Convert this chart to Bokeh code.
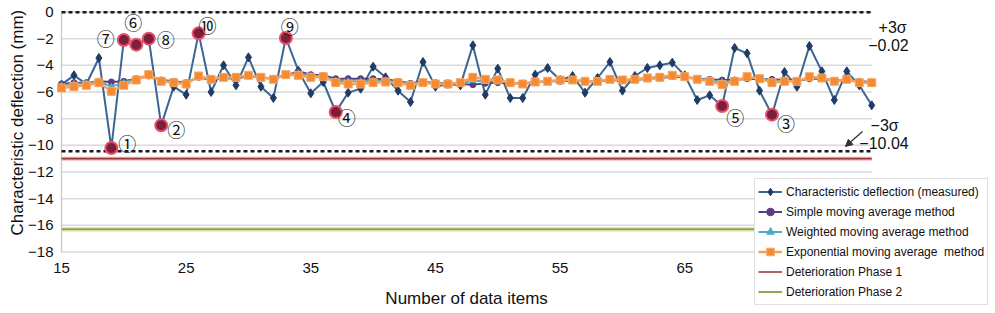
import math
from bokeh.plotting import figure
from bokeh.models import (ColumnDataSource, Legend, LegendItem, Label, Arrow,
                          NormalHead, FixedTicker, Range1d)
from bokeh.core.properties import value
from bokeh.embed import file_html
from bokeh.resources import INLINE

# ---------------- data ----------------
x_items = list(range(15, 81))
measured = [-5.45, -4.75, -5.4, -3.45, -10.2, -2.1, -2.45, -2.0, -8.5, -5.6,
            -6.2, -1.6, -6.0, -4.0, -5.5, -3.4, -5.6, -6.45, -1.95, -4.4,
            -6.1, -5.25, -7.5, -6.05, -5.75, -4.1, -4.9, -5.9, -6.75, -3.75,
            -5.6, -5.4, -5.5, -2.5, -6.2, -4.25, -6.45, -6.45, -4.7, -4.2,
            -5.1, -4.8, -6.05, -4.95, -3.75, -5.9, -4.8, -4.2, -4.0, -3.8,
            -4.75, -6.6, -6.25, -7.05, -2.7, -3.1, -5.9, -7.7, -4.5, -5.6,
            -2.55, -4.45, -6.6, -4.45, -5.5, -7.0]
sma = [-5.4, -5.3, -5.3, -5.2, -5.25, -5.2, -5.0, -4.8, -5.1, -5.2,
       -5.3, -4.9, -5.1, -4.95, -5.0, -4.8, -4.9, -5.0, -4.75, -4.45,
       -4.7, -4.75, -5.0, -5.0, -5.0, -5.0, -5.05, -5.2, -5.35, -5.25,
       -5.3, -5.35, -5.4, -5.45, -5.35, -5.3, -5.35, -5.35, -5.3, -5.2,
       -5.2, -5.15, -5.2, -5.2, -5.1, -5.15, -5.1, -5.0, -4.95, -4.85,
       -4.9, -5.0, -5.05, -5.1, -5.1, -5.0, -5.05, -5.05, -5.1, -5.15,
       -5.0, -5.0, -5.15, -5.1, -5.2, -5.25]
wma = [-5.5, -5.4, -5.35, -5.2, -5.6, -5.3, -5.0, -4.75, -5.15, -5.25,
       -5.35, -4.85, -5.05, -4.9, -4.95, -4.75, -4.9, -5.0, -4.7, -4.6,
       -4.8, -4.8, -5.15, -5.2, -5.2, -5.15, -5.15, -5.25, -5.4, -5.25,
       -5.35, -5.35, -5.35, -5.15, -5.2, -5.2, -5.3, -5.35, -5.25, -5.2,
       -5.15, -5.1, -5.2, -5.2, -5.05, -5.1, -5.05, -4.95, -4.9, -4.8,
       -4.85, -5.0, -5.1, -5.25, -5.15, -4.9, -5.0, -5.15, -5.15, -5.2,
       -4.9, -4.95, -5.15, -5.05, -5.25, -5.3]
ema = [-5.7, -5.6, -5.5, -5.3, -5.95, -5.5, -5.1, -4.7, -5.2, -5.3,
       -5.4, -4.8, -5.05, -4.9, -4.9, -4.75, -4.9, -5.05, -4.7, -4.75,
       -4.9, -4.85, -5.3, -5.4, -5.4, -5.3, -5.25, -5.3, -5.5, -5.3,
       -5.4, -5.4, -5.3, -4.9, -5.05, -5.1, -5.3, -5.4, -5.25, -5.2,
       -5.1, -5.1, -5.2, -5.2, -5.05, -5.1, -5.05, -4.95, -4.9, -4.75,
       -4.85, -5.05, -5.2, -5.45, -5.2, -4.85, -5.0, -5.3, -5.2, -5.2,
       -4.85, -4.95, -5.2, -5.05, -5.3, -5.3]

sigma_upper = -0.02
sigma_lower = -10.45
sigma_upper_text = ["+3σ", "−0.02"]
sigma_lower_text = ["−3σ", "−10.04"]
phase1 = -11.0
phase2 = -16.3

flag_items = [19, 23, 72, 37, 68, 21, 20, 22, 33, 26]
flag_labels = ["①", "②", "③", "④", "⑤", "⑥", "⑦", "⑧", "⑨", "⑩"]

x_ticks = [15, 25, 35, 45, 55, 65, 75]
y_ticks = list(range(-18, 1, 2))

x_title = "Number of data items"
y_title = "Characteristic deflection (mm)"
series_names = ["Characteristic deflection (measured)",
                "Simple moving average method",
                "Weighted moving average method",
                "Exponential moving average  method",
                "Deterioration Phase 1",
                "Deterioration Phase 2"]

# ---------------- layout / styling ----------------
FONT = "Liberation Sans"
W, H = 995, 313
X0_PX, PX_PER_X = 61.0, 12.465     # pixel of first x item, px per item
Y0_PX, PX_PER_Y = 11.5, 13.333     # pixel of y = 0, px per mm
x_lo, x_hi = x_items[0], x_items[-1]
y_lo, y_hi = y_ticks[0], y_ticks[-1]

flag_dx = [16, 15, 14, 11, 13, -3, -18, 17, 4, 9]
flag_dy = [-5, 4, 8, 5, 11, -23, -2, 0, -12, -8]

p = figure(frame_width=W, frame_height=H,
           x_range=Range1d(x_lo - X0_PX / PX_PER_X, x_lo + (W - X0_PX) / PX_PER_X),
           y_range=Range1d(-(H - Y0_PX) / PX_PER_Y, Y0_PX / PX_PER_Y),
           output_backend="svg", toolbar_location=None,
           min_border=0, min_border_left=0, min_border_right=0,
           min_border_top=0, min_border_bottom=0,
           background_fill_color="white", border_fill_color="white")
p.outline_line_color = None
p.grid.visible = False

p.xaxis.fixed_location = y_lo
p.yaxis.fixed_location = x_lo
p.xaxis.ticker = FixedTicker(ticks=x_ticks)
p.yaxis.ticker = FixedTicker(ticks=y_ticks)
p.yaxis.major_label_overrides = {t: ("−%d" % abs(t) if t < 0 else str(t)) for t in y_ticks}
for ax in (p.xaxis, p.yaxis):
    ax.axis_line_color = None
    ax.major_tick_line_color = None
    ax.minor_tick_line_color = None
    ax.major_tick_out = 0
    ax.major_tick_in = 0
    ax.minor_tick_out = 0
    ax.major_label_text_font = FONT
    ax.major_label_text_font_size = "15px"
    ax.major_label_text_color = "#111111"
p.xaxis.major_label_standoff = 11
p.yaxis.major_label_standoff = 8

# grid lines (only across the data span) and y axis line
p.segment(x0=[x_lo] * len(y_ticks), x1=[x_hi] * len(y_ticks), y0=y_ticks, y1=y_ticks,
          line_color="#d9d9d9", line_width=1.5)
p.segment(x0=[x_lo], x1=[x_lo], y0=[y_lo], y1=[y_hi], line_color="#c8c8c8", line_width=1.3)

# axis titles
p.add_layout(Label(x=x_lo, y=(y_lo + y_hi) / 2 + 0.7, x_offset=-44, text=y_title,
                   angle=math.pi / 2, text_align="center", text_baseline="middle",
                   text_font=FONT, text_font_size="17px", text_color="#111111"))
p.add_layout(Label(x=(x_lo + x_hi) / 2, y=y_lo - 3.5, text=x_title,
                   text_align="center", text_baseline="middle",
                   text_font=FONT, text_font_size="17px", text_color="#111111"))

src = ColumnDataSource(dict(x=x_items, m=measured, s=sma, w=wma, e=ema))
x_ends = [x_lo, x_hi]

# control limits (dashed)
p.line(x_ends, [sigma_upper] * 2, line_color="#1a1a1a", line_width=2.5, line_dash="4 3")
p.line(x_ends, [sigma_lower] * 2, line_color="#1a1a1a", line_width=2.5, line_dash="4 3")

# deterioration lines
p.line(x_ends, [phase1] * 2, line_color="#f2b8b8", line_width=4)
r_p1 = p.line(x_ends, [phase1] * 2, line_color="#9c3a3a", line_width=1.6)
p.line(x_ends, [phase2] * 2, line_color="#dfe8b8", line_width=4.5)
r_p2 = p.line(x_ends, [phase2] * 2, line_color="#8fa64a", line_width=2)

# series
r_ml = p.line("x", "m", source=src, line_color="#3b6593", line_width=2)
r_mm = p.scatter("x", "m", source=src, marker="diamond", size=9,
                 fill_color="#1f3b66", line_color="#1f3b66")
r_sl = p.line("x", "s", source=src, line_color="#5e3d7e", line_width=2)
r_sm = p.scatter("x", "s", source=src, marker="circle", size=6,
                 fill_color="#5e3d7e", line_color="#5e3d7e")
r_wl = p.line("x", "w", source=src, line_color="#4bacc6", line_width=2)
r_wm = p.scatter("x", "w", source=src, marker="triangle", size=6,
                 fill_color="#4bacc6", line_color="#4bacc6")
r_el = p.line("x", "e", source=src, line_color="#f7a05a", line_width=2.5)
r_em = p.scatter("x", "e", source=src, marker="square", size=8,
                 fill_color="#f58a35", line_color="#f7a860", line_width=1)

# flagged points
flag_y = [measured[x_items.index(k)] for k in flag_items]
fsrc = ColumnDataSource(dict(x=flag_items, y=flag_y, t=flag_labels,
                             dx=flag_dx, dy=flag_dy))
p.scatter("x", "y", source=fsrc, marker="circle", size=12,
          fill_color="#7d1f3c", line_color="#e8506a", line_width=2)
p.text("x", "y", text="t", source=fsrc, x_offset="dx", y_offset="dy",
       text_font=value("Noto Sans CJK JP"), text_font_size="18px",
       text_align="center", text_baseline="middle", text_color="#111111")

# sigma annotations
for txt, dy, dx in zip(sigma_upper_text, [-1.14, -2.49], [35, 37]):
    p.add_layout(Label(x=x_hi, y=sigma_upper + dy, x_offset=dx, text=txt,
                       text_align="right", text_baseline="middle",
                       text_font=FONT, text_font_size="16px", text_color="#111111"))
for txt, dy, dx in zip(sigma_lower_text, [1.94, 0.66], [27, 37]):
    p.add_layout(Label(x=x_hi, y=sigma_lower + dy, x_offset=dx, text=txt,
                       text_align="right", text_baseline="middle",
                       text_font=FONT, text_font_size="16px", text_color="#111111"))
p.add_layout(Arrow(end=NormalHead(size=7, line_color="#333333", fill_color="#333333"),
                   x_start=x_hi - 0.74, y_start=sigma_lower + 1.49,
                   x_end=x_hi - 2.11, y_end=sigma_lower + 0.36,
                   line_color="#333333", line_width=1.3))

legend = Legend(items=[
    LegendItem(label=series_names[0], renderers=[r_ml, r_mm]),
    LegendItem(label=series_names[1], renderers=[r_sl, r_sm]),
    LegendItem(label=series_names[2], renderers=[r_wl, r_wm]),
    LegendItem(label=series_names[3], renderers=[r_el, r_em]),
    LegendItem(label=series_names[4], renderers=[r_p1]),
    LegendItem(label=series_names[5], renderers=[r_p2]),
], location=(754, 8))
legend.label_text_font = FONT
legend.label_text_font_size = "12px"
legend.label_text_color = "#111111"
legend.glyph_width = 24
legend.glyph_height = 19
legend.label_height = 19
legend.label_standoff = 4
legend.spacing = 1
legend.padding = 3
legend.margin = 0
legend.border_line_color = "#bfbfbf"
legend.background_fill_color = "white"
legend.background_fill_alpha = 1.0
p.add_layout(legend, "center")

open("out.html", "w").write(file_html(p, INLINE))
